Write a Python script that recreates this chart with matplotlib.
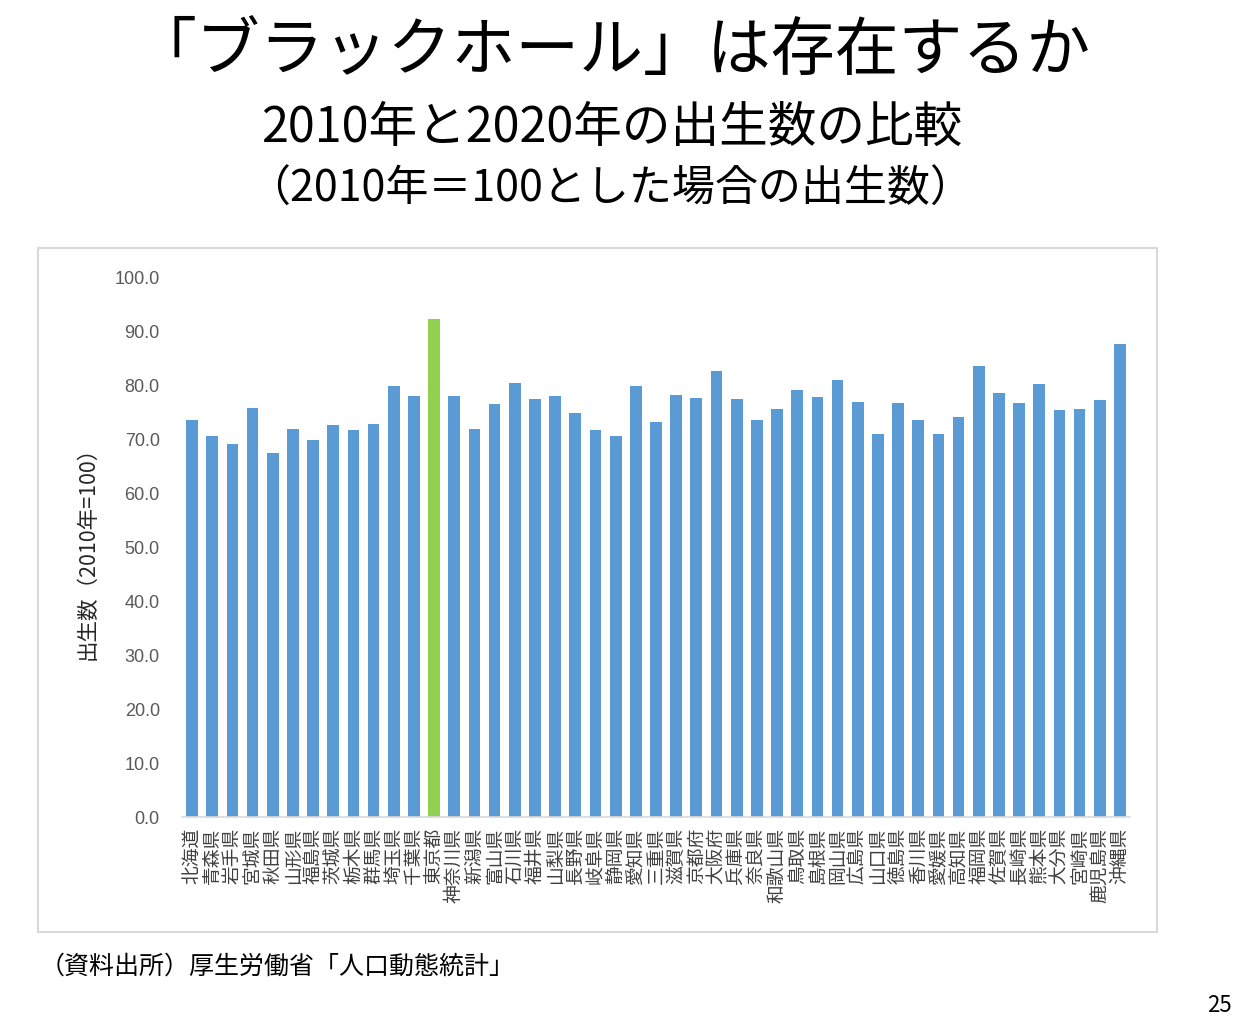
import numpy as np
import matplotlib
matplotlib.use('Agg')
import matplotlib.pyplot as plt
from matplotlib.patches import Rectangle

plt.rcParams['font.family'] = ['Noto Sans CJK JP', 'DejaVu Sans']

# Data (2010 = 100)
prefectures = ['北海道', '青森県', '岩手県', '宮城県', '秋田県', '山形県', '福島県',
               '茨城県', '栃木県', '群馬県', '埼玉県', '千葉県', '東京都', '神奈川県',
               '新潟県', '富山県', '石川県', '福井県', '山梨県', '長野県', '岐阜県',
               '静岡県', '愛知県', '三重県', '滋賀県', '京都府', '大阪府', '兵庫県',
               '奈良県', '和歌山県', '鳥取県', '島根県', '岡山県', '広島県', '山口県',
               '徳島県', '香川県', '愛媛県', '高知県', '福岡県', '佐賀県', '長崎県',
               '熊本県', '大分県', '宮崎県', '鹿児島県', '沖縄県']
births_index = [73.6, 70.6, 69.1, 75.8, 67.4, 71.9, 69.8,
                72.6, 71.7, 72.8, 79.8, 78.0, 92.3, 78.0,
                71.9, 76.5, 80.4, 77.4, 78.0, 74.8, 71.7,
                70.6, 79.8, 73.2, 78.2, 77.6, 82.6, 77.4,
                73.5, 75.6, 79.1, 77.8, 80.9, 76.9, 71.0,
                76.7, 73.6, 71.0, 74.1, 83.5, 78.6, 76.7,
                80.2, 75.4, 75.6, 77.2, 87.5]
highlight = '東京都'
yticks = np.arange(0, 101, 10)

W, H = 1237, 1024
fig = plt.figure(figsize=(W / 100, H / 100), dpi=100)

# chart frame
fig.patches.append(Rectangle((38 / W, 1 - 932 / H), (1157 - 38) / W, (932 - 248) / H,
                             transform=fig.transFigure, fill=False,
                             edgecolor='#D9D9D9', linewidth=1.5))

ax = fig.add_axes([182 / W, 1 - 817 / H, (1130 - 182) / W, (817 - 277) / H])
x = np.arange(len(prefectures))
colors = ['#92D050' if p == highlight else '#5B9BD5' for p in prefectures]
ax.bar(x, births_index, width=0.58, color=colors)

ax.set_xlim(-0.5, len(prefectures) - 0.5)
ax.set_ylim(0, 100)
ax.set_yticks(yticks)
ax.set_yticklabels(['%.1f' % v for v in yticks], fontsize=13, color='#595959',
                   family=['Liberation Sans', 'DejaVu Sans'])
ax.set_xticks(x)
ax.set_xticklabels(prefectures, rotation=90, fontsize=13.5, color='#404040',
                   va='top', ha='center')
ax.tick_params(axis='both', length=0)
ax.tick_params(axis='y', pad=16)
ax.tick_params(axis='x', pad=8)
for s in ['top', 'right', 'left']:
    ax.spines[s].set_visible(False)
ax.spines['bottom'].set_color('#D9D9D9')
ax.spines['bottom'].set_linewidth(1.2)

fig.text(88 / W, 1 - 548 / H, '出生数（2010年=100）', rotation=90, fontsize=15.5,
         color='#262626', ha='center', va='center')

# titles
fig.text(612 / W, 1 - 52 / H, '「ブラックホール」は存在するか', fontsize=46,
         ha='center', va='center')
fig.text(612 / W, 1 - 128 / H, '2010年と2020年の出生数の比較', fontsize=35,
         ha='center', va='center')
fig.text(610 / W, 1 - 190 / H, '（2010年＝100とした場合の出生数）', fontsize=31,
         ha='center', va='center')

fig.text(40 / W, 1 - 967 / H, '（資料出所）厚生労働省「人口動態統計」', fontsize=18,
         ha='left', va='center')
fig.text(1232 / W, 1 - 1005 / H, '25', fontsize=16, ha='right', va='center')

fig.savefig('out.png', dpi=100)
